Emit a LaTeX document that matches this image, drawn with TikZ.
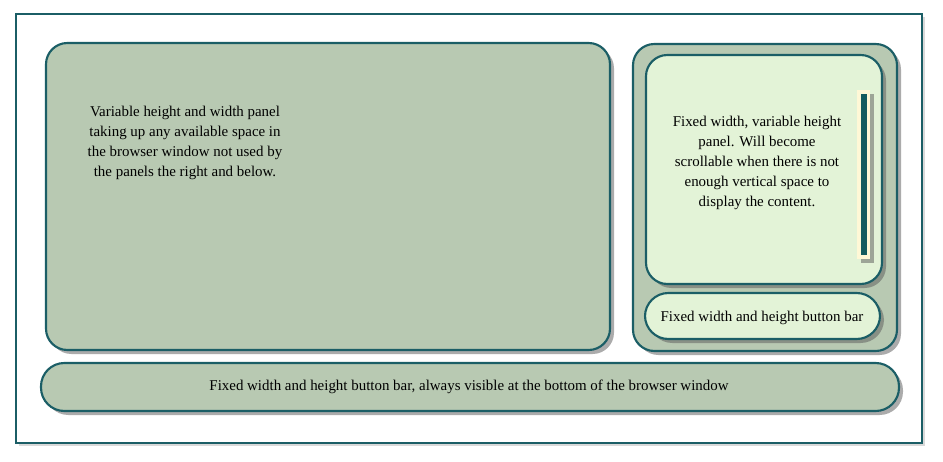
\documentclass[tikz,border=0pt]{standalone}
\usepackage{fontspec}
\setmainfont{Liberation Serif}
\usetikzlibrary{shadows,fit}
\definecolor{sage}{HTML}{B8C9B2}
\definecolor{edge}{HTML}{1B5E66}
\definecolor{mint}{HTML}{E3F3D7}
\definecolor{cream}{HTML}{FFF8D6}
\definecolor{bar}{HTML}{145B5E}
\begin{document}
\begin{tikzpicture}[x=0.75pt,y=-0.75pt,
  shd/.style={drop shadow={shadow xshift=3pt,shadow yshift=-3pt,opacity=0.5,fill=black!65}},
  frame/.style={draw=edge,line width=0.8pt,fill=white,inner sep=0pt,drop shadow={shadow xshift=2.5pt,shadow yshift=-2.5pt,opacity=0.3,fill=black!50}},
  panel/.style={draw=edge,line width=1.6pt,fill=sage,inner sep=0pt,rounded corners=16pt,shd},
  light/.style={draw=edge,line width=1.6pt,fill=mint,inner sep=0pt,rounded corners=16pt,shd},
  pill/.style={line width=1.6pt,draw=edge,inner sep=0pt,rounded corners=17.5pt,shd},
  txt/.style={align=center,font=\fontsize{11.2pt}{15pt}\selectfont,text=black}]
\useasboundingbox (0,0) rectangle (943,461);
\node[frame,fit={(16,14)(922,443)}] (frame) {};
\node[panel,fit={(46,43)(610,350)}] (main) {};
\node[txt] (maintext) at (185,143) {Variable height and width panel\\taking up any available space in\\the browser window not used by\\the panels the right and below.};
\node[panel,fit={(633,44)(897,351)}] (right) {};
\node[light,fit={(646,55)(882,284)}] (inner) {};
\node[draw=none,fill=cream,inner sep=0pt,shd,fit={(857,90)(870,259)}] (scrollout) {};
\node[draw=none,fill=bar,inner sep=0pt,fit={(861,94)(866.5,255)}] (scrollin) {};
\node[txt] (innertext) at (757,163) {Fixed width, variable height\\panel. Will become\\scrollable when there is not\\enough vertical space to\\display the content.};
\node[pill,fill=mint,fit={(645,293)(880,339)}] (btnbar) {};
\node[txt] (btntext) at (762,318) {Fixed width and height button bar};
\node[pill,fill=sage,fit={(41,363)(899,411)}] (bottom) {};
\node[txt] (bottomtext) at (469,387) {Fixed width and height button bar, always visible at the bottom of the browser window};
\end{tikzpicture}
\end{document}
